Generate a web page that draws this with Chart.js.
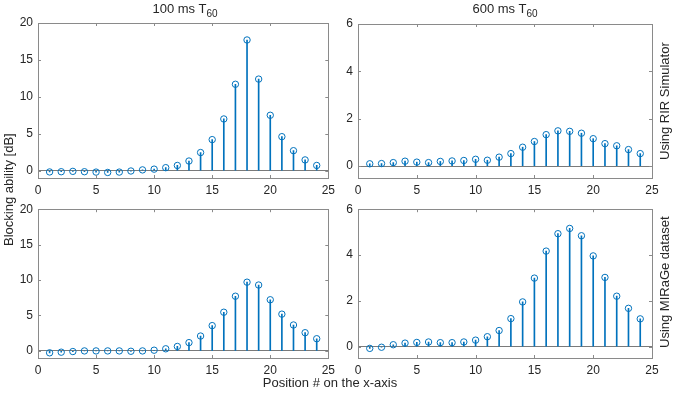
<!DOCTYPE html>
<html lang="en">
<head>
  <meta charset="utf-8">
  <title>Blocking ability</title>
  <style>
    body { margin: 0; background: #fff; }
    #fig { position: relative; width: 675px; height: 394px; background: #fff;
           font-family: "Liberation Sans", Arial, sans-serif; color: #262626; }
    #fig canvas { position: absolute; }
    .lbl { position: absolute; white-space: nowrap; font-size: 13px; line-height: 15px; }
    .lbl sub { font-size: 10px; vertical-align: -4px; line-height: 0; }
    .ctr { transform: translateX(-50%); }
    /* vertical text, reading bottom to top */
    .vert { writing-mode: vertical-rl; transform: rotate(180deg); text-align: center; height: 200px; }
  </style>
</head>
<body>
<div id="fig">
  <canvas id="tl" width="340" height="197" style="left:0;top:0"></canvas>
  <canvas id="tr" width="335" height="197" style="left:340px;top:0"></canvas>
  <canvas id="bl" width="340" height="197" style="left:0;top:197px"></canvas>
  <canvas id="br" width="335" height="197" style="left:340px;top:197px"></canvas>

  <div class="lbl ctr" style="left:185px;top:1px">100 ms T<sub>60</sub></div>
  <div class="lbl ctr" style="left:505px;top:1px">600 ms T<sub>60</sub></div>
  <div class="lbl vert" style="left:657px;top:1px">Using RIR Simulator</div>
  <div class="lbl vert" style="left:657px;top:182px">Using MIRaGe dataset</div>
  <div class="lbl vert" style="left:1px;top:90px">Blocking ability [dB]</div>
  <div class="lbl ctr" style="left:330px;top:375px">Position # on the x-axis</div>
</div>

<script src="https://cdn.jsdelivr.net/npm/chart.js"></script>
<script>
  // positions along the x-axis
  const positions = [1, 2, 3, 4, 5, 6, 7, 8, 9, 10, 11, 12, 13, 14, 15, 16, 17, 18, 19, 20, 21, 22, 23, 24];

  // blocking ability [dB]
  const rir100 = [-0.18, -0.15, -0.1, -0.15, -0.2, -0.25, -0.2, -0.05, 0.1, 0.2, 0.4, 0.7,
                  1.3, 2.45, 4.2, 7.0, 11.7, 17.7, 12.4, 7.5, 4.6, 2.7, 1.45, 0.7];
  const rir600 = [0.1, 0.11, 0.15, 0.21, 0.17, 0.15, 0.2, 0.22, 0.24, 0.29, 0.25, 0.38,
                  0.53, 0.8, 1.04, 1.33, 1.49, 1.47, 1.39, 1.16, 0.95, 0.86, 0.7, 0.53];
  const mirage100 = [-0.27, -0.18, -0.09, 0, 0, 0, 0, -0.05, 0, 0.1, 0.3, 0.63,
                     1.17, 2.1, 3.57, 5.46, 7.72, 9.7, 9.3, 7.22, 5.19, 3.66, 2.57, 1.72];
  const mirage600 = [-0.08, -0.03, 0.08, 0.15, 0.18, 0.2, 0.17, 0.17, 0.2, 0.28, 0.43, 0.7,
                     1.22, 1.95, 2.99, 4.17, 4.93, 5.16, 4.84, 3.96, 3.02, 2.2, 1.67, 1.21];

  // tick labels
  const xTicks = [0, 5, 10, 15, 20, 25];
  const yTicks100 = [0, 5, 10, 15, 20];
  const yTicks600 = [0, 2, 4, 6];

  const stemColor = '#0072BD';
  const boxColor = '#8a8a8a';
  const textColor = '#262626';

  // matlab style box with inward ticks on all four sides
  const boxPlugin = {
    id: 'matlabBox',
    afterDatasetsDraw(chart) {
      const ctx = chart.ctx, a = chart.chartArea;
      const xs = chart.scales.x, ys = chart.scales.y;
      const len = 3;
      ctx.save();
      ctx.strokeStyle = boxColor;
      ctx.lineWidth = 1;
      ctx.beginPath();
      xs.ticks.forEach(t => {
        const px = Math.round(xs.getPixelForValue(t.value)) + 0.5;
        ctx.moveTo(px, a.bottom); ctx.lineTo(px, a.bottom - len);
        ctx.moveTo(px, a.top); ctx.lineTo(px, a.top + len);
      });
      ys.ticks.forEach(t => {
        const py = Math.round(ys.getPixelForValue(t.value)) + 0.5;
        ctx.moveTo(a.left, py); ctx.lineTo(a.left + len, py);
        ctx.moveTo(a.right, py); ctx.lineTo(a.right - len, py);
      });
      ctx.stroke();
      ctx.strokeRect(Math.round(a.left) + 0.5, Math.round(a.top) + 0.5,
                     Math.round(a.right - a.left), Math.round(a.bottom - a.top));
      ctx.restore();
    }
  };

  function makePanel(id, values, yTicks, yMin, yMax, pad, yWidth, xHeight) {
    const pts = positions.map((x, i) => ({ x: x, y: values[i] }));
    new Chart(document.getElementById(id), {
      type: 'scatter',
      data: {
        datasets: [
          {
            type: 'scatter',
            data: pts,
            showLine: false,
            pointStyle: 'circle',
            pointRadius: 3.2,
            pointBorderWidth: 1,
            borderColor: stemColor,
            backgroundColor: 'rgba(0,0,0,0)',
            order: 1
          },
          {
            type: 'bar',
            data: pts,
            barThickness: 1,
            backgroundColor: stemColor,
            borderWidth: 0,
            order: 2
          }
        ]
      },
      options: {
        responsive: false,
        animation: false,
        events: [],
        layout: { padding: pad },
        plugins: { legend: { display: false }, tooltip: { enabled: false } },
        scales: {
          x: {
            type: 'linear',
            min: 0, max: 25,
            offset: false,
            grid: { display: false, drawTicks: false },
            border: { display: false },
            afterBuildTicks: s => { s.ticks = xTicks.map(v => ({ value: v })); },
            afterFit: s => { s.height = xHeight; },
            ticks: { color: textColor, padding: 5, maxRotation: 0,
                     font: { family: '"Liberation Sans", Arial, sans-serif', size: 12 } }
          },
          y: {
            type: 'linear',
            min: yMin, max: yMax,
            grid: {
              drawTicks: false,
              color: c => (c.tick && c.tick.value === 0 ? '#7a7a7a' : 'rgba(0,0,0,0)'),
              lineWidth: 1
            },
            border: { display: false },
            afterBuildTicks: s => { s.ticks = yTicks.map(v => ({ value: v })); },
            afterFit: s => { s.width = yWidth; },
            ticks: { color: textColor, padding: 5,
                     font: { family: '"Liberation Sans", Arial, sans-serif', size: 12 } }
          }
        }
      },
      plugins: [boxPlugin]
    });
  }

  makePanel('tl', rir100, yTicks100, -1, 20, { left: 0, right: 9, top: 23, bottom: 0 }, 38, 19);
  makePanel('tr', rir600, yTicks600, -0.5, 6, { left: 0, right: 23, top: 24, bottom: 0 }, 18, 19);
  makePanel('bl', mirage100, yTicks100, -1, 20, { left: 0, right: 9, top: 6, bottom: 0 }, 38, 36);
  makePanel('br', mirage600, yTicks600, -0.5, 6, { left: 0, right: 23, top: 8, bottom: 0 }, 18, 36);
</script>
</body>
</html>
